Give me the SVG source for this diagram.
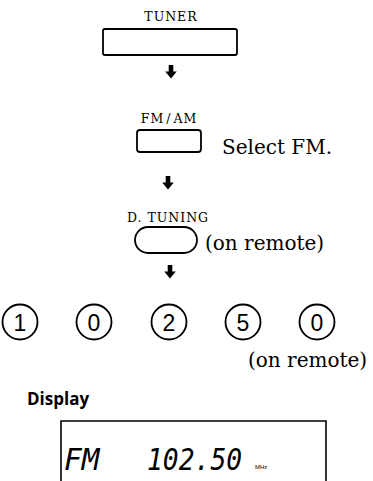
<svg xmlns="http://www.w3.org/2000/svg" width="373" height="481" viewBox="0 0 373 481">
<style>
.lbl{font-family:"DejaVu Serif","Liberation Serif",serif;font-size:12.5px;fill:#000;text-anchor:middle;letter-spacing:1px}
.txt{font-family:"DejaVu Serif","Liberation Serif",serif;font-size:20px;fill:#000}
.btn{fill:#fff;stroke:#000;stroke-width:1.8}
.num{font-family:"Liberation Sans","Arial",sans-serif;font-size:23px;fill:#000;text-anchor:middle}
.lcd{font-family:"DejaVu Sans Mono",monospace;font-style:italic;font-size:31px;fill:#000}
</style>
<defs>
<path id="ar" d="M-2.3,0 H2.3 V6.5 H5.8 L0,13.5 L-5.8,6.5 H-2.3 Z"/>
</defs>
<rect width="373" height="481" fill="#fff"/>
<g id="tuner">
<text class="lbl" x="171" y="21">TUNER</text>
<rect class="btn" x="103" y="29" width="134" height="26" rx="2"/>
</g>
<g id="fmam">
<text class="lbl" x="169" y="123">FM<tspan dx="2">/</tspan><tspan dx="2">AM</tspan></text>
<rect class="btn" x="137" y="130" width="64" height="22" rx="3"/>
<text class="txt" x="222" y="154">Select FM.</text>
</g>
<g id="dtuning">
<text class="lbl" x="168" y="222">D. TUNING</text>
<rect class="btn" x="135" y="227" width="62" height="26" rx="13"/>
<text class="txt" x="205" y="250">(on remote)</text>
</g>
<g id="digits">
<circle class="btn" cx="20" cy="322" r="17.5"/><text class="num" x="20" y="330.5">1</text>
<circle class="btn" cx="94" cy="322" r="17.5"/><text class="num" x="94" y="330.5">0</text>
<circle class="btn" cx="169" cy="322" r="17.5"/><text class="num" x="169" y="330.5">2</text>
<circle class="btn" cx="243" cy="322" r="17.5"/><text class="num" x="243" y="330.5">5</text>
<circle class="btn" cx="317" cy="322" r="17.5"/><text class="num" x="317" y="330.5">0</text>
<text class="txt" x="248" y="367">(on remote)</text>
</g>
<g id="display">
<text x="27" y="405" font-family="'Open Sans','DejaVu Sans',sans-serif" font-weight="bold" font-size="17" fill="#000">Display</text>
<path d="M61,481 V421 H326 V481" fill="none" stroke="#000" stroke-width="1.6"/>
<text class="lcd" transform="translate(64,470) scale(0.95,1)">FM</text>
<text class="lcd" transform="translate(147,470) scale(0.85,1)">102.50</text>
<text x="255" y="469" font-family="'Liberation Sans',sans-serif" font-size="6" fill="#000">MHz</text>
</g>
<g id="connectors">
<use href="#ar" x="171" y="65"/>
<use href="#ar" x="168" y="176"/>
<use href="#ar" x="170" y="265"/>
</g>
</svg>
